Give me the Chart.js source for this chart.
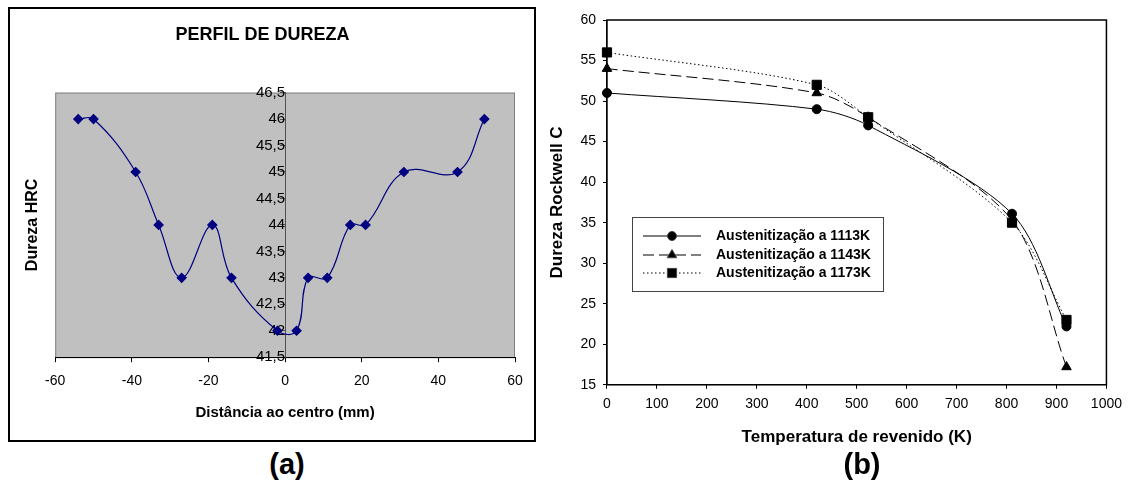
<!DOCTYPE html>
<html>
<head>
<meta charset="utf-8">
<script src="https://cdn.jsdelivr.net/npm/chart.js@4.4.0/dist/chart.umd.min.js"></script>
<style>
  body { margin: 0; width: 1129px; height: 483px; background: #fff; position: relative; overflow: hidden; }
  #frameA { position: absolute; left: 8px; top: 7px; width: 524px; height: 431px; border: 2px solid #000; }
  #frameB { position: absolute; left: 540px; top: 0; width: 589px; height: 450px; }
  .tag { position: absolute; top: 448px; font: bold 29px "Liberation Sans", Arial, sans-serif; text-align: center; width: 60px; }
</style>
</head>
<body>
<div id="frameA"><canvas id="perfil" width="524" height="431"></canvas></div>
<div id="frameB"><canvas id="revenido" width="589" height="450"></canvas></div>
<div class="tag" style="left:257px">(a)</div>
<div class="tag" style="left:832px">(b)</div>
<script>
// (a) perfil de dureza
const distancia = [-54, -50, -39, -33, -27, -19, -14, -2, 3, 6, 11, 17, 21, 31, 45, 52];
const durezaHRC = [46, 46, 45, 44, 43, 44, 43, 42, 42, 43, 43, 44, 44, 45, 45, 46];

// (b) dureza x temperatura de revenido
const temperatura = [0, 420, 523, 811, 920];
const dureza1113 = [51, 49, 47, 36.1, 22.2];
const dureza1143 = [54, 51, 48, 35.3, 17.2];
const dureza1173 = [56, 52, 48, 35, 23];
const legendas = ['Austenitização a 1113K', 'Austenitização a 1143K', 'Austenitização a 1173K'];

const arial = '"Liberation Sans", Arial, sans-serif';

const pts = (xs, ys) => xs.map((x, i) => ({ x: x, y: ys[i] }));

const grayArea = {
  id: 'grayArea',
  beforeDraw(chart) {
    const { ctx, chartArea: a } = chart;
    ctx.save();
    ctx.fillStyle = '#c0c0c0';
    ctx.fillRect(a.left, a.top, a.width, a.height);
    ctx.strokeStyle = '#808080';
    ctx.lineWidth = 1;
    ctx.strokeRect(a.left + 0.5, a.top + 0.5, a.width - 1, a.height);
    ctx.restore();
  }
};

new Chart(document.getElementById('perfil'), {
  type: 'line',
  data: {
    datasets: [{
      data: pts(distancia, durezaHRC),
      borderColor: '#000080',
      backgroundColor: '#000080',
      borderWidth: 1.2,
      tension: 0.4,
      pointStyle: 'rectRot',
      pointRadius: 4.5
    }]
  },
  options: {
    responsive: false,
    animation: false,
    layout: { padding: { left: 0, right: 19, top: 0, bottom: 18 } },
    plugins: {
      legend: { display: false },
      tooltip: { enabled: false },
      title: {
        display: true,
        text: 'PERFIL DE DUREZA',
        color: '#000',
        font: { family: arial, size: 18, weight: 'bold' },
        padding: { top: 15, bottom: 47 }
      }
    },
    scales: {
      x: {
        type: 'linear',
        min: -60, max: 60,
        ticks: { stepSize: 20, color: '#000', padding: 11, font: { family: arial, size: 14 } },
        grid: { drawOnChartArea: false, tickLength: 5, color: '#000' },
        border: { color: '#000' },
        title: {
          display: true,
          text: 'Distância ao centro (mm)',
          color: '#000',
          font: { family: arial, size: 15, weight: 'bold' },
          padding: { top: 3, bottom: 0 }
        }
      },
      y: {
        position: { x: 0 },
        min: 41.5, max: 46.5,
        ticks: {
          stepSize: 0.5, color: '#000', padding: 0,
          font: { family: arial, size: 15 },
          callback: v => String(v).replace('.', ',')
        },
        grid: { drawOnChartArea: false, tickLength: 5, color: '#505050' },
        border: { color: '#505050' }
      },
      yTitulo: {
        position: 'left',
        min: 41.5, max: 46.5,
        ticks: { display: false },
        grid: { display: false },
        border: { display: false },
        title: {
          display: true,
          text: 'Dureza HRC',
          color: '#000',
          font: { family: arial, size: 16, weight: 'bold' },
          padding: { top: 13, bottom: 5 }
        }
      }
    }
  },
  plugins: [grayArea]
});

const boxAndLegend = {
  id: 'boxAndLegend',
  afterDraw(chart) {
    const { ctx, chartArea: a } = chart;
    ctx.save();
    ctx.strokeStyle = '#000';
    ctx.lineWidth = 1.5;
    ctx.strokeRect(a.left, a.top, a.width, a.height);

    // legenda
    ctx.strokeStyle = '#444';
    ctx.lineWidth = 1;
    ctx.strokeRect(92.5, 217.5, 251, 74);
    const rows = [236, 255, 273];
    chart.data.datasets.forEach((ds, i) => {
      const y = rows[i];
      ctx.save();
      ctx.strokeStyle = '#000';
      ctx.lineWidth = 1;
      ctx.setLineDash(ds.borderDash || []);
      ctx.beginPath();
      ctx.moveTo(103, y);
      ctx.lineTo(161, y);
      ctx.stroke();
      ctx.restore();
      ctx.fillStyle = '#000';
      Chart.helpers.drawPoint(ctx, { pointStyle: ds.pointStyle, radius: ds.pointRadius, borderWidth: 1 }, 132, y);
      ctx.fillStyle = '#000';
      ctx.font = 'bold 14px ' + arial;
      ctx.textBaseline = 'middle';
      ctx.fillText(ds.label, 176, y);
    });
    ctx.restore();
  }
};

new Chart(document.getElementById('revenido'), {
  type: 'line',
  data: {
    datasets: [
      { label: legendas[0], data: pts(temperatura, dureza1113), pointStyle: 'circle', pointRadius: 4.5, borderDash: [] },
      { label: legendas[1], data: pts(temperatura, dureza1143), pointStyle: 'triangle', pointRadius: 5.5, borderDash: [11, 5] },
      { label: legendas[2], data: pts(temperatura, dureza1173), pointStyle: 'rect', pointRadius: 6.5, borderDash: [1.5, 2.5] }
    ].map(d => Object.assign(d, {
      borderColor: '#000', backgroundColor: '#000', borderWidth: 1,
      tension: 0.3, clip: false
    }))
  },
  options: {
    responsive: false,
    animation: false,
    layout: { padding: { left: 0, right: 19, top: 20, bottom: 2 } },
    plugins: { legend: { display: false }, tooltip: { enabled: false } },
    scales: {
      x: {
        type: 'linear',
        min: 0, max: 1000,
        ticks: { stepSize: 100, color: '#000', padding: 7, font: { family: arial, size: 14 }, callback: v => String(v) },
        grid: { drawOnChartArea: false, tickLength: 4, color: '#000' },
        border: { color: '#000' },
        title: {
          display: true,
          text: 'Temperatura de revenido (K)',
          color: '#000',
          font: { family: arial, size: 17, weight: 'bold' },
          padding: { top: 8, bottom: 0 }
        }
      },
      y: {
        min: 15, max: 60,
        ticks: { stepSize: 5, color: '#000', padding: 7, font: { family: arial, size: 14 } },
        grid: { drawOnChartArea: false, tickLength: 4, color: '#000' },
        border: { color: '#000' },
        title: {
          display: true,
          text: 'Dureza Rockwell C',
          color: '#000',
          font: { family: arial, size: 17, weight: 'bold' },
          padding: { top: 7, bottom: 6 }
        }
      }
    }
  },
  plugins: [boxAndLegend]
});
</script>
</body>
</html>
